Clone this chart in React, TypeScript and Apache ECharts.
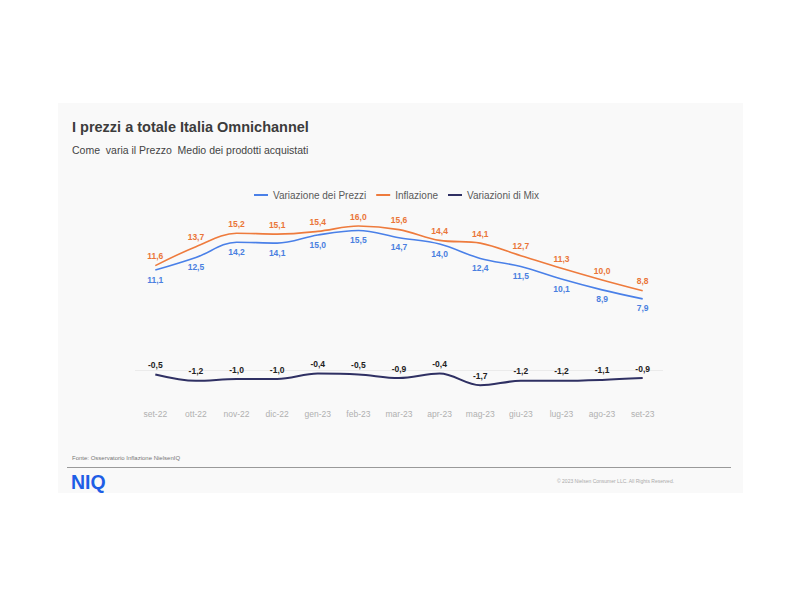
import React, { useEffect, useRef } from "react";
import * as echarts from "echarts";

const categories = ["set-22", "ott-22", "nov-22", "dic-22", "gen-23", "feb-23", "mar-23", "apr-23", "mag-23", "giu-23", "lug-23", "ago-23", "set-23"];
const prezzi = [11.1, 12.5, 14.2, 14.1, 15.0, 15.5, 14.7, 14.0, 12.4, 11.5, 10.1, 8.9, 7.9];
const inflazione = [11.6, 13.7, 15.2, 15.1, 15.4, 16.0, 15.6, 14.4, 14.1, 12.7, 11.3, 10.0, 8.8];
const mix = [-0.5, -1.2, -1.0, -1.0, -0.4, -0.5, -0.9, -0.4, -1.7, -1.2, -1.2, -1.1, -0.9];

const FONT = "'Liberation Sans', Arial, sans-serif";
const BLUE = "#4a80e8";
const ORANGE = "#ee7b3d";
const NAVY = "#2f3063";
const fmt = (p: any) => Number(p.value).toFixed(1).replace(".", ",");

export default function App() {
  const ref = useRef<HTMLDivElement>(null);
  useEffect(() => {
    if (!ref.current) return;
    const chart = echarts.init(ref.current, undefined, { renderer: "svg" });
    const hidden = { itemStyle: { color: "rgba(0,0,0,0)" }, symbol: "circle", symbolSize: 2, showSymbol: true };
    chart.setOption({
      animation: false,
      backgroundColor: "#ffffff",
      textStyle: { fontFamily: FONT },
      graphic: [
        { type: "rect", z: -10, shape: { x: 58, y: 103, width: 685, height: 390 }, style: { fill: "#f9f9f9" } },
        { type: "text", left: 72, top: 119, style: { text: "I prezzi a totale Italia Omnichannel", font: `bold 14.5px ${FONT}`, fill: "#3c3c3c" } },
        { type: "text", left: 72, top: 144, style: { text: "Come  varia il Prezzo  Medio dei prodotti acquistati", font: `10.5px ${FONT}`, fill: "#444" } },
        { type: "text", left: 72, top: 455, style: { text: "Fonte: Osservatorio Inflazione NielsenIQ", font: `6px ${FONT}`, fill: "#777" } },
        { type: "line", shape: { x1: 67, y1: 467.5, x2: 731, y2: 467.5 }, style: { stroke: "#9a9a9a", lineWidth: 1 } },
        { type: "text", left: 71, top: 472, style: { text: "NIQ", font: `bold 19.5px ${FONT}`, fill: "#1e5ee6" } },
        { type: "text", left: 557, top: 478, style: { text: "© 2023 Nielsen Consumer LLC. All Rights Reserved.", font: `5px ${FONT}`, fill: "#aaa" } },
      ],
      legend: {
        left: 249,
        top: 185,
        itemWidth: 14,
        itemHeight: 2,
        itemGap: 10,
        icon: "rect",
        textStyle: { fontSize: 10, color: "#595959", fontFamily: FONT },
        data: [
          { name: "Variazione dei Prezzi", itemStyle: { color: BLUE } },
          { name: "Inflazione", itemStyle: { color: ORANGE } },
          { name: "Variazioni di Mix", itemStyle: { color: NAVY } },
        ],
      },
      grid: { left: 135, right: 137, top: 208, bottom: 203 },
      xAxis: {
        type: "category",
        data: categories,
        boundaryGap: true,
        axisLine: { show: false },
        axisTick: { show: false },
        axisLabel: { color: "#b0b0b0", fontSize: 8.5, margin: 12, fontFamily: FONT },
      },
      yAxis: { type: "value", min: -3, max: 18, show: false, splitLine: { show: false } },
      series: [
        {
          name: "Variazione dei Prezzi",
          type: "line",
          data: prezzi,
          smooth: 0.35,
          color: BLUE,
          lineStyle: { width: 1.6, color: BLUE },
          ...hidden,
          label: { show: true, position: "bottom", distance: 4, formatter: fmt, color: "#4a7fe0", fontSize: 8.5, fontWeight: "bold", fontFamily: FONT },
        },
        {
          name: "Inflazione",
          type: "line",
          data: inflazione,
          smooth: 0.35,
          color: ORANGE,
          lineStyle: { width: 1.6, color: ORANGE },
          ...hidden,
          label: { show: true, position: "top", distance: 4, formatter: fmt, color: "#ea7538", fontSize: 8.5, fontWeight: "bold", fontFamily: FONT },
        },
        {
          name: "Variazioni di Mix",
          type: "line",
          data: mix,
          smooth: 0.35,
          color: NAVY,
          lineStyle: { width: 2, color: NAVY },
          ...hidden,
          label: { show: true, position: "top", distance: 4, formatter: fmt, color: "#222", fontSize: 8.5, fontWeight: "bold", fontFamily: FONT },
          markLine: {
            z: 0,
            silent: true,
            symbol: "none",
            label: { show: false },
            lineStyle: { color: "#ebebeb", width: 1, type: "solid" },
            data: [{ yAxis: 0 }],
          },
        },
      ],
    });
    return () => chart.dispose();
  }, []);
  return <div ref={ref} style={{ position: "fixed", left: 0, top: 0, width: 800, height: 600 }} />;
}
